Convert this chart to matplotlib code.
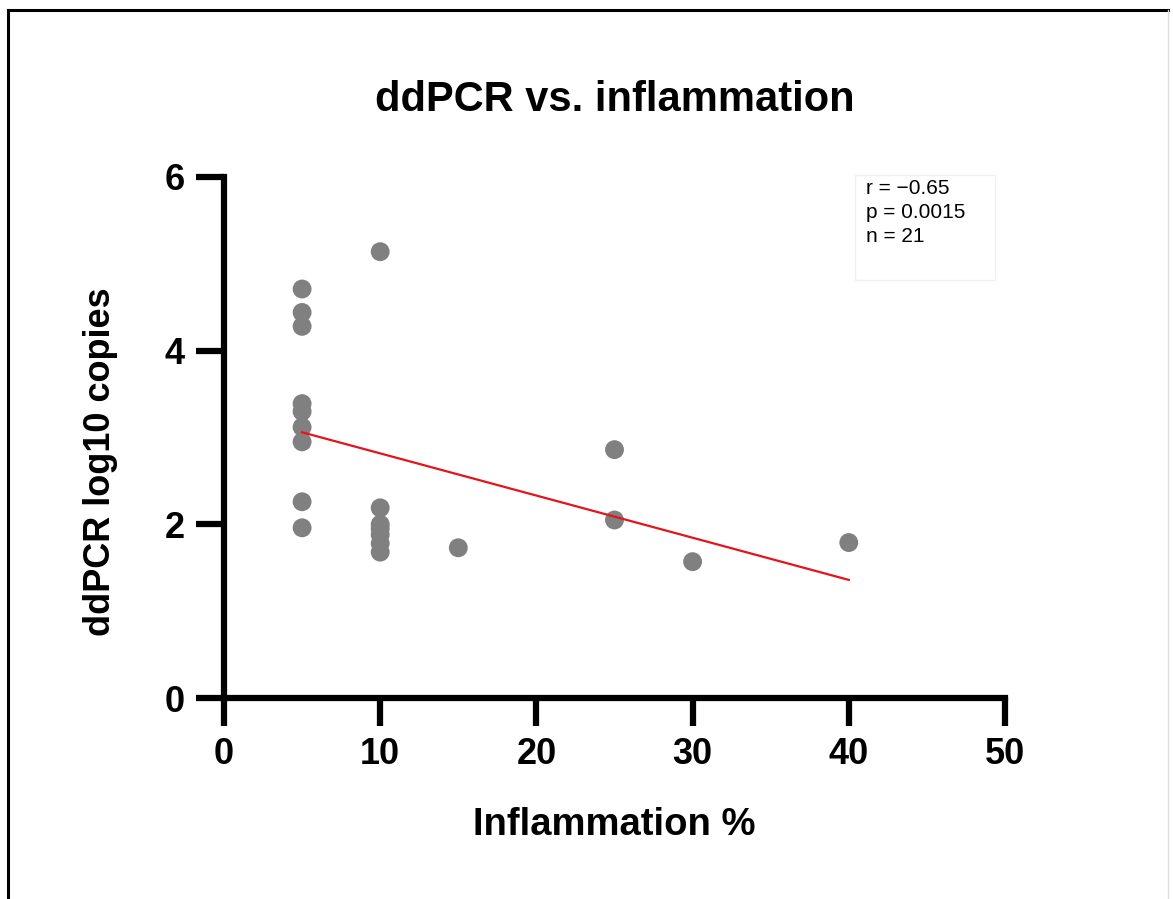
import matplotlib
matplotlib.use("Agg")
import matplotlib.pyplot as plt
import numpy as np
from matplotlib.lines import Line2D
from matplotlib.patches import Rectangle

plt.rcParams['font.family'] = ['Liberation Sans', 'DejaVu Sans']

# Data
inflammation = [5, 5, 5, 5, 5, 5, 5, 5, 5,
                10, 10, 10, 10, 10, 10, 10,
                15, 25, 25, 30, 40]
ddpcr_log10 = [4.71, 4.44, 4.28, 3.39, 3.30, 3.12, 2.95, 2.26, 1.96,
               5.14, 2.19, 2.00, 1.95, 1.88, 1.78, 1.68,
               1.73, 2.86, 2.05, 1.57, 1.79]
fit_x = [5, 40]
fit_y = [3.06, 1.36]
x_ticks = [0, 10, 20, 30, 40, 50]
y_ticks = [0, 2, 4, 6]
stats_text = "r = \u22120.65\np = 0.0015\nn = 21"

W, H = 1173, 899
fig = plt.figure(figsize=(W / 100, H / 100), dpi=100)

# outer frame
fig.add_artist(Line2D([8 / W, 8 / W], [0, 1 - 10 / H], transform=fig.transFigure, color='black', lw=2.2))
fig.add_artist(Line2D([8 / W, 1168 / W], [1 - 10 / H, 1 - 10 / H], transform=fig.transFigure, color='black', lw=2.2))
fig.add_artist(Line2D([1168 / W, 1168 / W], [0, 1 - 10 / H], transform=fig.transFigure, color='#dddddd', lw=1))

# faint box behind the stats text
fig.add_artist(Rectangle((855 / W, 1 - 280 / H), 140 / W, 105 / H, transform=fig.transFigure,
                         facecolor='white', edgecolor='#f0f0f0', lw=1, zorder=5))

ax = fig.add_axes([224 / W, 1 - 698 / H, 781 / W, 521 / H])
ax.scatter(inflammation, ddpcr_log10, s=185, color='#808080', edgecolors='none', zorder=3, clip_on=False)
ax.plot(fit_x, fit_y, color='#e3141b', lw=1.6, zorder=4)

ax.set_xlim(0, 50)
ax.set_ylim(0, 6)
ax.set_xticks(x_ticks)
ax.set_yticks(y_ticks)
for s in ['top', 'right']:
    ax.spines[s].set_visible(False)
for s in ['left', 'bottom']:
    ax.spines[s].set_linewidth(4.5)
    ax.spines[s].set_capstyle('projecting')
ax.tick_params(axis='both', direction='out', length=20, width=4.5, pad=8)
for lbl in ax.get_xticklabels() + ax.get_yticklabels():
    lbl.set_fontsize(26)
    lbl.set_fontweight('bold')

ax.set_xlabel("Inflammation %", fontsize=27.5, fontweight='bold')
ax.xaxis.set_label_coords((614 - 224) / 781, (698 - 825) / 521)
ax.xaxis.label.set_va('center')
ax.set_ylabel("ddPCR log10 copies", fontsize=26, fontweight='bold')
ax.yaxis.set_label_coords((101 - 224) / 781, (698 - 462) / 521)
ax.yaxis.label.set_va('center')
fig.text(615 / W, 1 - 100 / H, "ddPCR vs. inflammation", ha='center', va='center',
         fontsize=30, fontweight='bold')

fig.text(866 / W, 1 - 179 / H, stats_text, ha='left', va='top', fontsize=15,
         linespacing=1.32, zorder=6)

fig.savefig("out.png", dpi=100)
